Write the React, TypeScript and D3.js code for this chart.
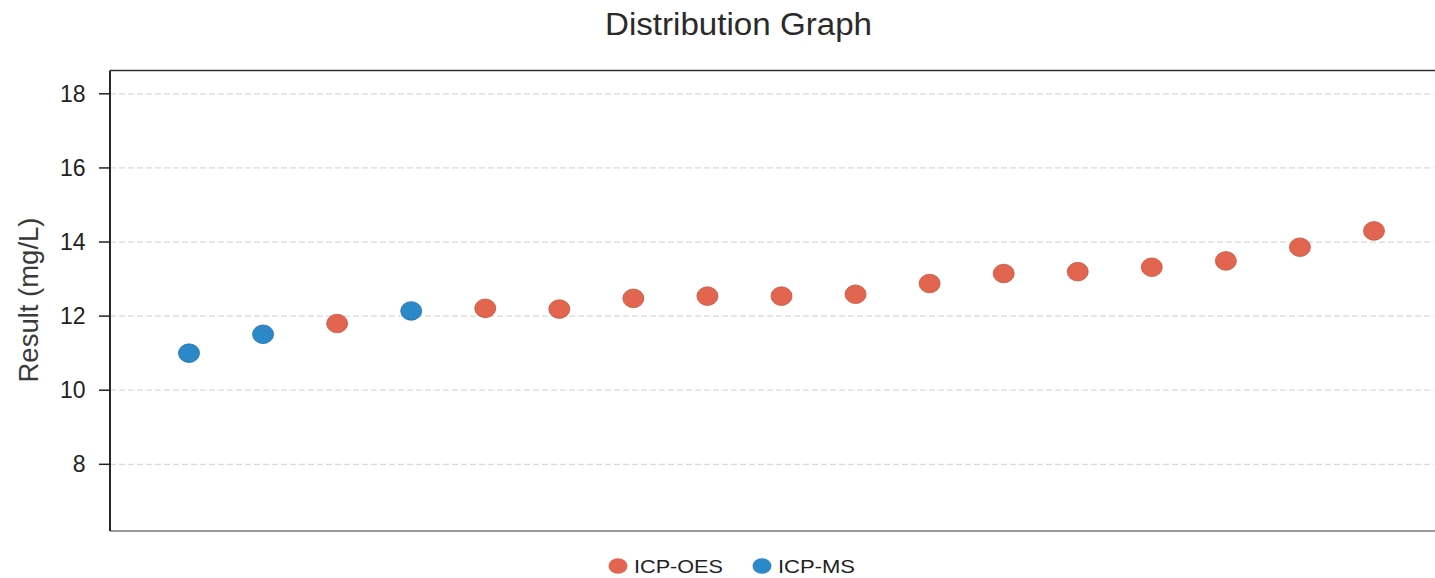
import React from 'react';
import * as d3 from 'd3';

const title = 'Distribution Graph';
const yLabel = 'Result (mg/L)';
const seriesNames = ['ICP-OES', 'ICP-MS'];
const seriesColors = ['#e2664f', '#2c89c9'];
const seriesStrokes = ['#c4533e', '#1f6ea6'];
const sampleIndex = [1, 2, 3, 4, 5, 6, 7, 8, 9, 10, 11, 12, 13, 14, 15, 16, 17];
const sampleMethod = [
  'ICP-MS', 'ICP-MS', 'ICP-OES', 'ICP-MS', 'ICP-OES', 'ICP-OES', 'ICP-OES', 'ICP-OES', 'ICP-OES',
  'ICP-OES', 'ICP-OES', 'ICP-OES', 'ICP-OES', 'ICP-OES', 'ICP-OES', 'ICP-OES', 'ICP-OES',
];
const sampleResult = [
  11.0, 11.51, 11.8, 12.14, 12.21, 12.19, 12.48, 12.54, 12.54, 12.59, 12.88, 13.15, 13.2, 13.32, 13.49,
  13.86, 14.3,
];
const yTicks = [8, 10, 12, 14, 16, 18];

const W = 1435;
const H = 578;
const plotLeft = 110;
const plotRight = 1434;
const plotTop = 70.5;
const plotBottom = 531;

export default function App() {
  const x = d3.scaleLinear().domain([1, 17]).range([189, 1374]);
  const y = d3.scaleLinear().domain([6.2, 18.63]).range([plotBottom, plotTop]);
  const font = 'Liberation Sans, Arial, sans-serif';
  const colorOf = (m: string) => seriesColors[seriesNames.indexOf(m)];
  const strokeOf = (m: string) => seriesStrokes[seriesNames.indexOf(m)];

  return (
    <svg
      width={W}
      height={H}
      style={{ position: 'absolute', left: 0, top: 0, background: '#fff' }}
      fontFamily={font}
    >
      <rect x={0} y={0} width={W} height={H} fill="#fff" />
      <text x={738.5} y={35} textAnchor="middle" fontSize={31} fill="#2a2a2a" textLength={267} lengthAdjust="spacingAndGlyphs">
        {title}
      </text>

      {/* grid lines */}
      {yTicks.map((t) => (
        <line
          key={'g' + t}
          x1={plotLeft}
          x2={plotRight}
          y1={y(t)}
          y2={y(t)}
          stroke="#d9d9d9"
          strokeWidth={1.3}
          strokeDasharray="6,3"
        />
      ))}

      {/* frame */}
      <line x1={plotLeft} x2={plotRight + 1} y1={plotTop} y2={plotTop} stroke="#333" strokeWidth={1.6} />
      <line x1={plotLeft} x2={plotRight + 1} y1={plotBottom} y2={plotBottom} stroke="#777" strokeWidth={1.6} />
      <line x1={plotLeft} x2={plotLeft} y1={plotTop} y2={plotBottom} stroke="#111" strokeWidth={1.8} />

      {/* y ticks */}
      {yTicks.map((t) => (
        <g key={'t' + t}>
          <line x1={99} x2={plotLeft} y1={y(t)} y2={y(t)} stroke="#222" strokeWidth={1.5} />
          <text x={85.5} y={y(t)} dy="0.35em" textAnchor="end" fontSize={23} fill="#222">
            {t}
          </text>
        </g>
      ))}

      <text
        transform={`translate(38,${300}) rotate(-90)`}
        textAnchor="middle"
        fontSize={27}
        fill="#3a3a3a"
        textLength={165}
        lengthAdjust="spacingAndGlyphs"
      >
        {yLabel}
      </text>

      {/* points */}
      {sampleIndex.map((idx, i) => (
        <ellipse
          key={'p' + idx}
          cx={x(idx)}
          cy={y(sampleResult[i])}
          rx={10.5}
          ry={9.3}
          fill={colorOf(sampleMethod[i])}
          stroke={strokeOf(sampleMethod[i])}
          strokeWidth={0.8}
        />
      ))}

      {/* legend */}
      <ellipse cx={618} cy={566} rx={9.5} ry={7.8} fill={seriesColors[0]} />
      <text x={634} y={573} fontSize={18} fill="#222" textLength={89} lengthAdjust="spacingAndGlyphs">
        {seriesNames[0]}
      </text>
      <ellipse cx={762} cy={566} rx={9.5} ry={7.8} fill={seriesColors[1]} />
      <text x={778} y={573} fontSize={18} fill="#222" textLength={77} lengthAdjust="spacingAndGlyphs">
        {seriesNames[1]}
      </text>
    </svg>
  );
}
